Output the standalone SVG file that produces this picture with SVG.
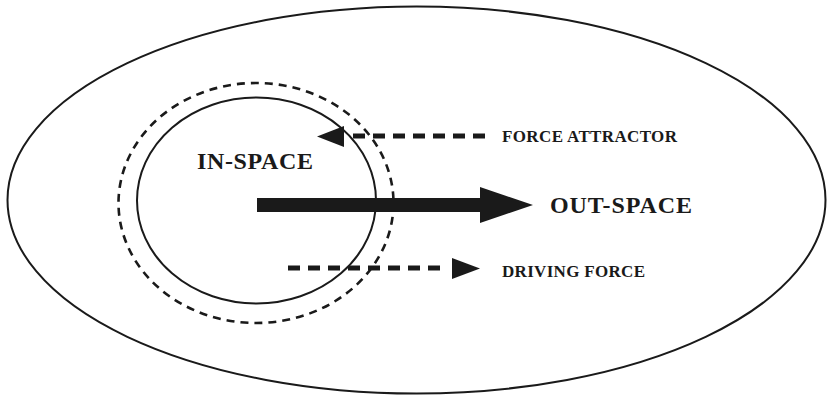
<svg xmlns="http://www.w3.org/2000/svg" width="827" height="397" viewBox="0 0 827 397">
<style>
.line{fill:none;stroke:#1a1a1a}
.lbl{font-family:"Liberation Serif","DejaVu Serif",serif;font-weight:bold;fill:#1a1a1a}
.dash{stroke:#1a1a1a;stroke-width:5;stroke-dasharray:12 8;fill:none}
.head{fill:#1a1a1a}
</style>
<rect width="827" height="397" fill="#fff"/>
<g id="out-space">
<ellipse class="line" cx="416.5" cy="200" rx="409" ry="193.5" stroke-width="2"/>
<text class="lbl" x="550" y="213" font-size="24" textLength="142">OUT-SPACE</text>
</g>
<g id="boundary">
<ellipse class="line" cx="256" cy="203" rx="137.5" ry="120" stroke-width="2.6" stroke-dasharray="8 6"/>
</g>
<g id="in-space">
<ellipse class="line" cx="256.5" cy="200.5" rx="119.5" ry="103" stroke-width="2"/>
<text class="lbl" x="197" y="169" font-size="24" textLength="116">IN-SPACE</text>
</g>
<g id="labels">
<text class="lbl" x="502" y="142" font-size="17" textLength="175">FORCE ATTRACTOR</text>
<text class="lbl" x="502" y="277" font-size="17" textLength="143">DRIVING FORCE</text>
</g>
<g id="connectors">
<rect x="257" y="198" width="224" height="14" fill="#1a1a1a"/>
<polygon class="head" points="480,187 533,205 480,223"/>
<line class="dash" x1="485" y1="136" x2="345" y2="136"/>
<polygon class="head" points="344,126 317,136.5 344,147"/>
<line class="dash" x1="288" y1="268" x2="448" y2="268"/>
<polygon class="head" points="452,258 480,268.5 452,279"/>
</g>
</svg>
